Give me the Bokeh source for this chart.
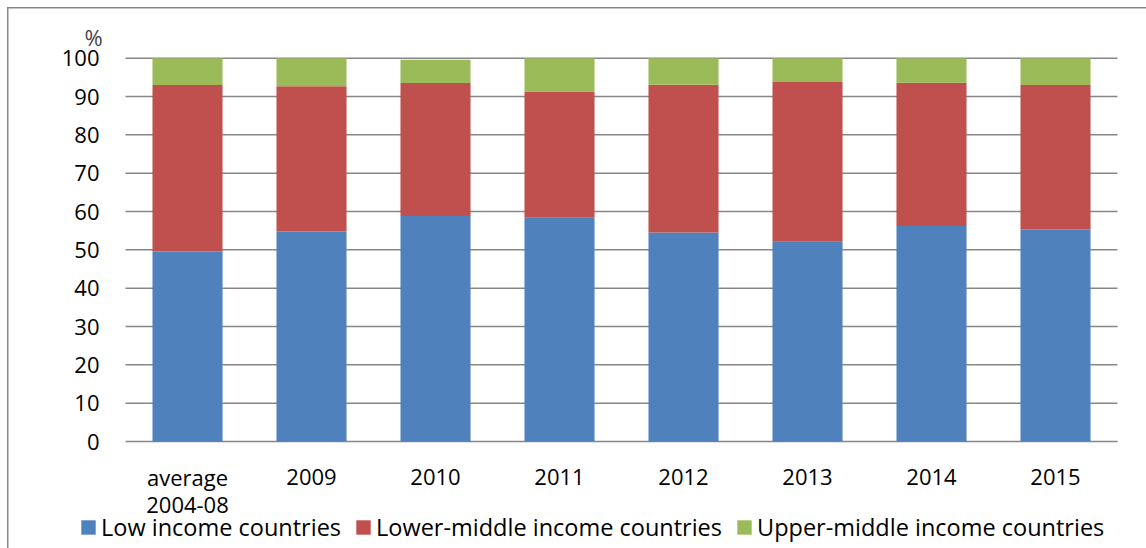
from bokeh.plotting import figure
from bokeh.models import Range1d, Legend, LegendItem, Label
from bokeh.core.properties import value
from bokeh.embed import file_html
from bokeh.resources import INLINE

categories = ["average\n2004-08", "2009", "2010", "2011", "2012", "2013", "2014", "2015"]
low_income = [49.6, 54.8, 58.8, 58.4, 54.5, 52.1, 56.2, 55.3]
lower_middle = [43.4, 37.9, 34.7, 32.9, 38.6, 41.7, 37.4, 37.7]
upper_middle = [7.0, 7.3, 6.1, 8.7, 6.9, 6.2, 6.4, 7.0]
series_names = ["Low income countries", "Lower-middle income countries", "Upper-middle income countries"]
colors = ["#4F81BD", "#C0504D", "#9BBB59"]
y_ticks = [0, 10, 20, 30, 40, 50, 60, 70, 80, 90, 100]

FONT = "Open Sans"
GRID = "#878787"
W, H = 1146, 548

# layout (pixels): plot area left edge, category width, value-axis scale
PX_LEFT, PX_CAT = 125, 124
PX_ZERO, PX_PER_UNIT = 441, 3.833
n = len(categories)

p = figure(width=W, height=H, output_backend="svg", toolbar_location=None,
           x_range=Range1d(-PX_LEFT / PX_CAT, (W - PX_LEFT) / PX_CAT),
           y_range=Range1d(-(H - PX_ZERO) / PX_PER_UNIT, PX_ZERO / PX_PER_UNIT),
           min_border=0)
p.axis.visible = False
p.grid.visible = False
p.outline_line_color = None
p.border_fill_color = None
p.background_fill_color = None
p.styles = {"background-color": "white",
            "box-shadow": "inset 7px 7px 0 0 white, inset 8.5px 8.5px 0 0 #878787"}

xc = [i + 0.5 for i in range(n)]

# gridlines (the one at 0 doubles as the category axis line)
p.segment(x0=[0] * len(y_ticks), x1=[n] * len(y_ticks), y0=y_ticks, y1=y_ticks,
          line_color=GRID, line_width=1.5)

data = dict(x=xc, low=low_income, lowmid=lower_middle, upmid=upper_middle)
r = p.vbar_stack(["low", "lowmid", "upmid"], x="x", width=0.565, source=data,
                 color=colors, line_color=None)

# value-axis tick labels
p.text(x=[-26 / PX_CAT] * len(y_ticks), y=y_ticks, text=[str(t) for t in y_ticks],
       text_align="right", text_baseline="middle", text_font=value(FONT),
       text_font_size="22px", text_color="black")

# category tick labels (first and second line)
line1 = [c.split("\n")[0] for c in categories]
line2 = [c.split("\n")[1] if "\n" in c else "" for c in categories]
p.text(x=xc, y=[-35 / PX_PER_UNIT] * n, text=line1,
       text_align="center", text_baseline="middle", text_font=value(FONT),
       text_font_size="22px", text_color="black")
p.text(x=xc, y=[-63 / PX_PER_UNIT] * n, text=line2,
       text_align="center", text_baseline="middle", text_font=value(FONT),
       text_font_size="22px", text_color="black")

legend = Legend(items=[LegendItem(label=nm, renderers=[rr]) for nm, rr in zip(series_names, r)],
                orientation="horizontal", location=(79, 5),
                label_text_font=FONT, label_text_font_size="23.5px", label_text_color="black",
                glyph_width=18, glyph_height=18, label_standoff=4, spacing=13,
                padding=0, margin=0, border_line_color=None, background_fill_alpha=0)
p.add_layout(legend, "center")

p.add_layout(Label(x=93, y=H - 36, x_units="screen", y_units="screen", text="%",
                   text_font=FONT, text_font_size="22px", text_align="center",
                   text_baseline="middle"))

open("out.html", "w").write(file_html(p, INLINE))
